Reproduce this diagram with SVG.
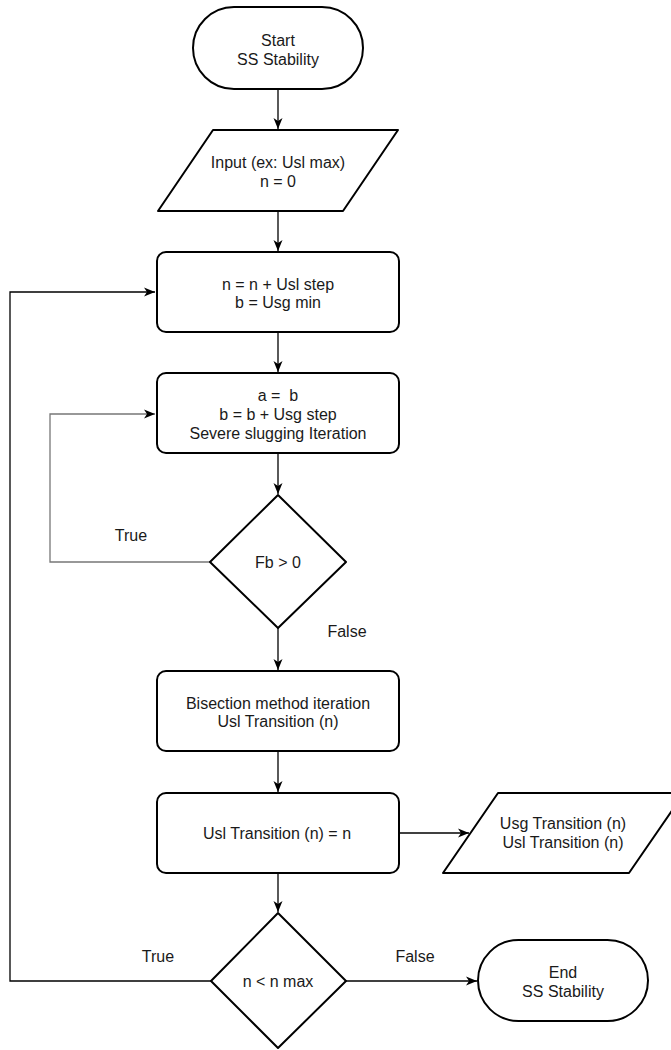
<svg xmlns="http://www.w3.org/2000/svg" width="671" height="1050" viewBox="0 0 671 1050">
<style>
.shape{fill:#fff;stroke:#000;stroke-width:2;stroke-linejoin:round}
.conn{fill:none;stroke:#000;stroke-width:1.3}
.gray{stroke:#777}
text{font-family:"Liberation Sans",Arial,sans-serif;font-size:16px;fill:#1a1a1a;text-anchor:middle;dominant-baseline:central;white-space:pre}
</style>
<defs>
<marker id="arr" markerUnits="userSpaceOnUse" markerWidth="12" markerHeight="10" refX="11" refY="5" orient="auto">
<path d="M0,0.5 L11,5 L0,9.5 L3,5 Z" fill="#000"/>
</marker>
</defs>
<rect width="671" height="1050" fill="#fff"/>
<g id="connectors">
<path class="conn" d="M278,89 V129" marker-end="url(#arr)"/>
<path class="conn" d="M278,211 V251" marker-end="url(#arr)"/>
<path class="conn" d="M278,332 V372" marker-end="url(#arr)"/>
<path class="conn" d="M278,453 V494" marker-end="url(#arr)"/>
<path class="conn" d="M278,628 V670" marker-end="url(#arr)"/>
<path class="conn" d="M278,751 V792" marker-end="url(#arr)"/>
<path class="conn" d="M278,873 V912" marker-end="url(#arr)"/>
<path class="conn gray" d="M210,562 H50 V414 H155" marker-end="url(#arr)"/>
<path class="conn" d="M211,981 H10 V292 H155" marker-end="url(#arr)"/>
<path class="conn" d="M399,833 H469" marker-end="url(#arr)"/>
<path class="conn" d="M346,981 H477" marker-end="url(#arr)"/>
<text x="131" y="535">True</text>
<text x="347" y="631">False</text>
<text x="158" y="956">True</text>
<text x="415" y="956">False</text>
</g>
<g id="start">
<rect class="shape" x="193" y="7" width="170" height="82" rx="41" ry="41"/>
<text x="278" y="40">Start</text>
<text x="278" y="59">SS Stability</text>
</g>
<g id="input">
<path class="shape" d="M213,130 H398 L343,211 H158 Z"/>
<text x="278" y="162">Input (ex: Usl max)</text>
<text x="278" y="181">n = 0</text>
</g>
<g id="step-n">
<rect class="shape" x="157" y="252" width="242" height="80" rx="9"/>
<text x="278" y="284">n = n + Usl step</text>
<text x="278" y="302">b = Usg min</text>
</g>
<g id="step-b">
<rect class="shape" x="157" y="373" width="242" height="80" rx="9"/>
<text x="278" y="395" xml:space="preserve">a =  b</text>
<text x="278" y="414">b = b + Usg step</text>
<text x="278" y="433">Severe slugging Iteration</text>
</g>
<g id="decision-fb">
<path class="shape" d="M278,495 L346,562 L278,628 L210,562 Z"/>
<text x="278" y="562">Fb &gt; 0</text>
</g>
<g id="bisection">
<rect class="shape" x="157" y="671" width="242" height="80" rx="9"/>
<text x="278" y="703">Bisection method iteration</text>
<text x="278" y="721">Usl Transition (n)</text>
</g>
<g id="assign">
<rect class="shape" x="157" y="793" width="242" height="80" rx="9"/>
<text x="277" y="833">Usl Transition (n) = n</text>
</g>
<g id="output">
<path class="shape" d="M498,793 H684 L629,873 H443 Z"/>
<text x="563" y="823">Usg Transition (n)</text>
<text x="563" y="842">Usl Transition (n)</text>
</g>
<g id="decision-n">
<path class="shape" d="M278,913 L346,981 L278,1048 L211,981 Z"/>
<text x="278" y="981">n &lt; n max</text>
</g>
<g id="end">
<rect class="shape" x="478" y="940" width="170" height="81" rx="40.5" ry="40.5"/>
<text x="563" y="972">End</text>
<text x="563" y="991">SS Stability</text>
</g>
</svg>
